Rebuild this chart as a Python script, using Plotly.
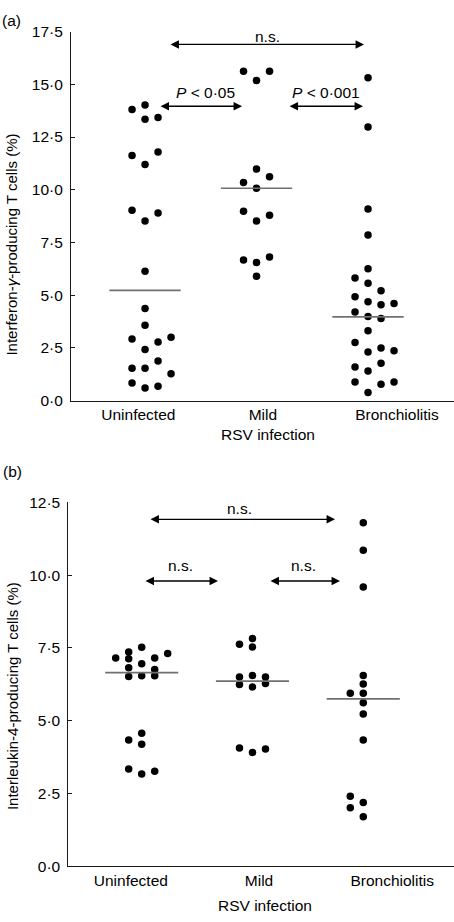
import plotly.graph_objects as go

# ---------------- data ----------------
groups = ["Uninfected", "Mild", "Bronchiolitis"]

ifn_uninfected = [14.02, 13.81, 13.34, 13.43, 11.20, 11.63, 11.79, 8.52, 9.03, 8.90,
                  6.13, 4.37, 3.57, 2.42, 2.92, 2.78, 3.01, 1.54, 1.54, 1.88, 1.27,
                  0.60, 0.84, 0.68]
ifn_mild = [15.18, 15.62, 15.62, 10.98, 10.07, 10.34, 10.62, 8.52, 8.98, 8.79,
            6.55, 5.90, 6.67, 6.81]
ifn_bronch = [15.31, 12.98, 9.09, 7.86, 6.25, 5.57, 5.82, 5.21, 4.69, 4.93, 4.61,
              4.55, 4.20, 3.99, 3.89, 3.32, 2.76, 2.31, 2.50, 2.37, 1.40, 1.60,
              1.77, 0.39, 0.88, 0.78, 0.88]
ifn_median = [5.23, 10.07, 3.97]

il4_uninfected = [7.52, 6.96, 6.54, 7.36, 7.13, 7.15, 7.31, 7.15, 6.82, 6.76,
                  6.52, 6.54, 4.19, 4.34, 4.57, 3.17, 3.34, 3.26]
il4_mild = [6.16, 6.24, 6.28, 6.55, 6.50, 6.50, 7.53, 7.82, 7.63, 3.91, 4.06, 4.03]
il4_bronch = [11.80, 10.86, 9.59, 6.55, 6.26, 5.94, 5.94, 5.62, 5.23, 4.34,
              1.70, 2.19, 2.40, 2.01]
il4_median = [6.65, 6.36, 5.75]

ifn_ticks = [0, 2.5, 5.0, 7.5, 10.0, 12.5, 15.0, 17.5]
il4_ticks = [0, 2.5, 5.0, 7.5, 10.0, 12.5]

ifn_sig = ["n.s.", "<i>P</i> < 0·05", "<i>P</i> < 0·001"]
il4_sig = ["n.s.", "n.s.", "n.s."]

# ---------------- layout constants ----------------
W, H = 454, 922
FONT = "Liberation Sans, Arial, sans-serif"
FS = 15.5


def xp(px):   # page pixel -> paper fraction
    return px / W


def yp(py):
    return 1 - py / H


# panel geometry in page pixels
PA = dict(left=71, top=23, bottom=399, ymax=17.5, xr=[0.336, 3.771])
PB = dict(left=68.3, top=502.7, bottom=873.3, ymax=12.5, xr=[0.3375, 3.819])


def px_per_unit_y(p):
    return (p["bottom"] - p["top"]) / p["ymax"]


def px_per_unit_x(p):
    return (W - p["left"]) / (p["xr"][1] - p["xr"][0])


def swarm(values, center, p, thr_px, slot_px=13.0, order=(0, -1, 1, 2, -2, 3, -3)):
    """Greedy beeswarm: each point takes the first slot with no close neighbour."""
    ky = px_per_unit_y(p)
    kx = px_per_unit_x(p)
    placed = []
    xs = []
    for v in values:
        chosen = order[-1]
        for s in order:
            if all(not (ps == s and abs(pv - v) * ky < thr_px) for ps, pv in placed):
                chosen = s
                break
        placed.append((chosen, v))
        xs.append(center + chosen * slot_px / kx)
    return xs


def fmt(v):
    return f"{v:.1f}".replace(".", "·")


fig = go.Figure()

panels = [
    (PA, "x", "y", [ifn_uninfected, ifn_mild, ifn_bronch], ifn_median, 13.4, 0.32),
    (PB, "x2", "y2", [il4_uninfected, il4_mild, il4_bronch], il4_median, 6.5, 0.33),
]

for p, xa, ya, series, med, thr, hw in panels:
    for gi, vals in enumerate(series):
        c = gi + 1
        fig.add_trace(go.Scatter(
            x=swarm(vals, c, p, thr), y=vals, mode="markers",
            marker=dict(color="black", size=7.5, line=dict(width=0)),
            xaxis=xa, yaxis=ya, showlegend=False, hoverinfo="y"))
        fig.add_trace(go.Scatter(
            x=[c - hw, c + hw], y=[med[gi], med[gi]], mode="lines",
            line=dict(color="#707070", width=1.6),
            xaxis=xa, yaxis=ya, showlegend=False, hoverinfo="skip"))

axis_common = dict(showgrid=False, zeroline=False, showline=True,
                   linecolor="#1a1a1a", linewidth=1,
                   tickfont=dict(family=FONT, size=FS, color="black"))

fig.update_layout(
    width=W, height=H,
    margin=dict(l=0, r=0, t=0, b=0),
    paper_bgcolor="white", plot_bgcolor="white",
    font=dict(family=FONT, size=FS, color="black"),
    xaxis=dict(domain=[xp(PA["left"]), 1], range=PA["xr"], ticks="",
               tickvals=[0.94, 2.057, 3.26], ticktext=groups, **axis_common),
    yaxis=dict(domain=[yp(PA["bottom"]), yp(PA["top"])], range=[0, PA["ymax"]],
               ticks="inside", ticklen=4, tickcolor="#1a1a1a",
               tickvals=ifn_ticks, ticktext=[fmt(t) for t in ifn_ticks],
               ticklabelstandoff=4, **axis_common),
    xaxis2=dict(domain=[xp(PB["left"]), 1], range=PB["xr"], ticks="", anchor="y2",
                tickvals=[0.902, 2.059, 3.261], ticktext=groups, **axis_common),
    yaxis2=dict(domain=[yp(PB["bottom"]), yp(PB["top"])], range=[0, PB["ymax"]],
                anchor="x2", ticks="inside", ticklen=4, tickcolor="#1a1a1a",
                tickvals=il4_ticks, ticktext=[fmt(t) for t in il4_ticks],
                ticklabelstandoff=4, **axis_common),
)

ann = []


def text(x, y, s, xref="paper", yref="paper", angle=0, size=FS, **kw):
    ann.append(dict(x=x, y=y, xref=xref, yref=yref, text=s, showarrow=False,
                    textangle=angle, font=dict(family=FONT, size=size, color="black"),
                    xanchor="center", yanchor="middle", **kw))


def arrow(x0, x1, y, xref, yref):
    ann.append(dict(x=x1, y=y, ax=x0, ay=y, xref=xref, yref=yref, axref=xref, ayref=yref,
                    text="", showarrow=True, arrowhead=2, arrowside="end+start",
                    arrowsize=1.3, arrowwidth=1.3, arrowcolor="black",
                    standoff=0, startstandoff=0))


# panel labels
text(xp(11), yp(12), "(a)")
text(xp(12), yp(471), "(b)")

# axis titles
text(2.106, yp(433.5), "RSV infection", xref="x")
text(2.113, yp(913), "RSV infection", xref="x2")
text(xp(12), yp(240), "Interferon-<i>γ</i>-producing T cells (%)", angle=-90, size=15)
text(xp(12), yp(700), "Interleukin-4-producing T cells (%)", angle=-90, size=15)

# significance brackets, panel (a)
arrow(1.215, 2.964, 16.89, "x", "y")
text(2.10, 17.26, ifn_sig[0], xref="x", yref="y")
arrow(1.126, 1.870, 13.96, "x", "y")
text(1.538, 14.61, ifn_sig[1], xref="x", yref="y")
arrow(2.283, 2.955, 13.96, "x", "y")
text(2.623, 14.61, ifn_sig[2], xref="x", yref="y")

# significance brackets, panel (b)
arrow(1.066, 2.745, 11.92, "x2", "y2")
text(1.887, 12.29, il4_sig[0], xref="x2", yref="y2")
arrow(1.021, 1.689, 9.80, "x2", "y2")
text(1.346, 10.33, il4_sig[1], xref="x2", yref="y2")
arrow(2.149, 2.790, 9.80, "x2", "y2")
text(2.456, 10.33, il4_sig[2], xref="x2", yref="y2")

fig.update_layout(annotations=ann)

fig.write_html("out.html",
               config={"displayModeBar": False},
               post_script="document.body.style.margin='0px';"
                           "document.body.style.overflow='hidden';")
